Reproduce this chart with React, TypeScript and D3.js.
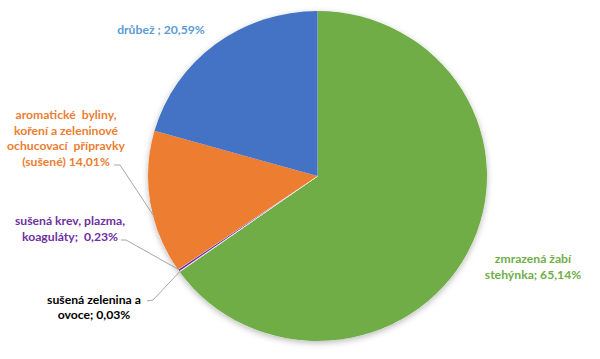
import React from "react";
import * as d3 from "d3";

const categories = [
  "zmrazená žabí stehýnka",
  "sušená zelenina a ovoce",
  "sušená krev, plazma, koaguláty",
  "aromatické byliny, koření a zeleninové ochucovací přípravky (sušené)",
  "drůbež",
];
const values = [65.14, 0.03, 0.23, 14.01, 20.59];
const sliceColors = ["#70AD47", "#000000", "#7030A0", "#ED7D31", "#4472C4"];
const labelColors = ["#70AD47", "#000000", "#7030A0", "#ED7D31", "#5B9BD5"];
const labelLines: string[][] = [
  ["zmrazená žabí", "stehýnka; 65,14%"],
  ["sušená zelenina a", "ovoce; 0,03%"],
  ["sušená krev, plazma,", "koaguláty;  0,23%"],
  ["aromatické  byliny,", "koření a zeleninové", "ochucovací  přípravky", "(sušené) 14,01%"],
  ["drůbež ; 20,59%"],
];
// label anchor (center x, first baseline y, line step)
const labelPos: [number, number, number][] = [
  [533, 263, 16],
  [94, 304, 14.5],
  [70, 225, 16],
  [66, 119, 15.6],
  [161, 34, 15],
];

const W = 600;
const H = 359;
const cx = 317.5;
const cy = 176;
const R = 165;
const sx = 169.5 / 165;

export default function App() {
  const pie = d3.pie<number>().sort(null).value((d) => d)(values);
  const arc = d3.arc<d3.PieArcDatum<number>>().innerRadius(0).outerRadius(R);
  const pt = (a: number, r: number): [number, number] => [
    cx + sx * r * Math.sin(a),
    cy - r * Math.cos(a),
  ];
  const leaders: { idx: number; start: [number, number]; elbow: [number, number] }[] = [
    { idx: 1, start: [147, 301], elbow: [153, 300] },
    { idx: 2, start: [121, 240], elbow: [126, 240] },
    { idx: 3, start: [114, 165], elbow: [120, 165] },
  ];
  return (
    <svg width={W} height={H} style={{ display: "block", position: "absolute", left: 0, top: 0 }}>
      <defs>
        <filter id="sh" x="-20%" y="-20%" width="140%" height="140%">
          <feDropShadow dx="0" dy="2" stdDeviation="3" floodColor="#000" floodOpacity="0.28" />
        </filter>
      </defs>
      <rect width={W} height={H} fill="#fff" />
      <g transform={`translate(${cx},${cy}) scale(${sx},1)`}>
        <circle r={R} fill="#fff" filter="url(#sh)" />
        {pie.map((p, i) => (
          <path
            key={i}
            d={arc(p) || ""}
            fill={sliceColors[i]}
            stroke={i === 1 || i === 2 ? "#fff" : "none"}
            strokeWidth={i === 1 || i === 2 ? 0.9 : 0}
            strokeOpacity={0.8}
          />
        ))}
      </g>
      {leaders.map((l, k) => {
        const p = pie[l.idx];
        const mid = l.idx === 3 ? p.startAngle + (p.endAngle - p.startAngle) * 0.4 : (p.startAngle + p.endAngle) / 2;
        const end = pt(mid, R - 1);
        const d = d3.line()([l.start, l.elbow, end]) || "";
        return <path key={k} d={d} fill="none" stroke="#A6A6A6" strokeWidth={1} />;
      })}
      {labelLines.map((lines, i) => (
        <text
          key={i}
          textAnchor="middle"
          fontFamily="Lato, 'Open Sans', sans-serif"
          fontWeight={700}
          fontSize={12.2}
          fill={labelColors[i]}
          style={{ whiteSpace: "pre" }}
        >
          {lines.map((t, j) => (
            <tspan key={j} x={labelPos[i][0]} y={labelPos[i][1] + j * labelPos[i][2]}>
              {t}
            </tspan>
          ))}
        </text>
      ))}
      <title>{categories.join(", ")}</title>
    </svg>
  );
}
